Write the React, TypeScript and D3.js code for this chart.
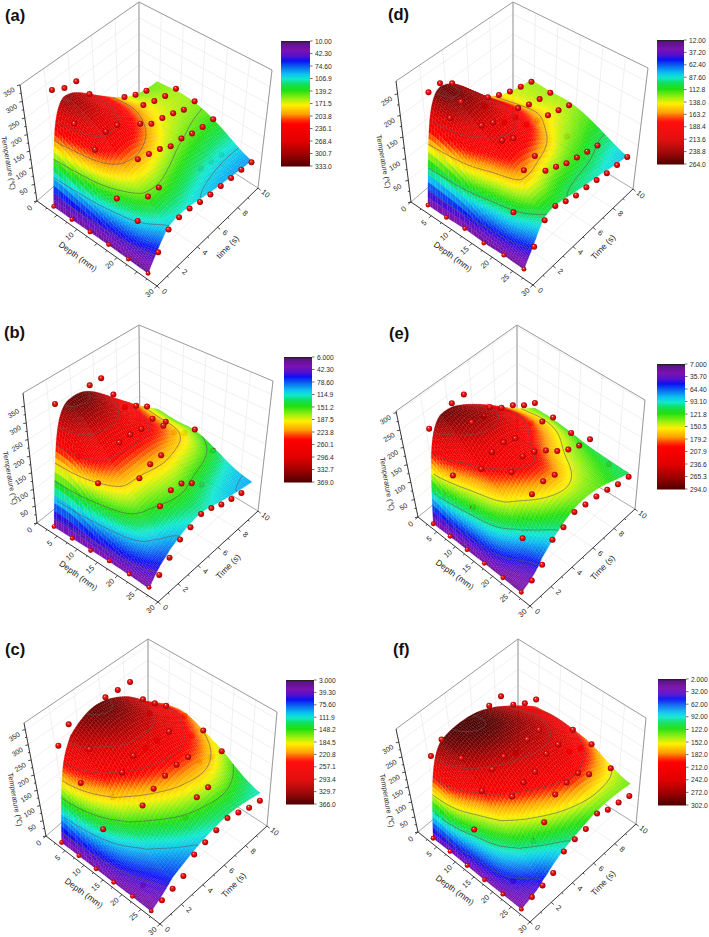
import React, { useEffect, useRef } from "react";
import * as d3 from "d3";

const depths = [4.4, 8.9, 13.4, 18, 22.9, 27.8];
const times = [0, 1, 2, 3, 4, 5, 6, 7, 8, 9, 10];
const N = null;

const surfaceA = [
  [21, 265, 312, 290, 255, 222, 190, 160, 141, 130, 129],
  [20, 225, 285, 278, 252, 222, 195, 170, 155, 145, 138],
  [21, 190, 250, 250, 232, 205, 178, 160, 150, 142, 135],
  [21, 135, 185, 195, 182, 168, 150, 143, 132, 124, 118],
  [20, 100, 140, 145, 135, 125, 115, 105, 98, 92, 88],
  [18, 52, 88, 98, 95, 88, 80, 75, 70, 65, 60],
];
const dotsA = [
  [21, 345, 325, 320, 255, N, N, 165, 145, 130, N],
  [20, 280, N, N, N, N, N, 175, 160, 148, 143],
  [21, 238, 265, 258, N, 208, 180, 170, 157, 140, 138],
  [22, 130, N, 192, 180, 167, 148, 143, 130, 122, 117],
  [20, 104, 148, 147, N, N, N, 90, 80, 75, N],
  [19, 52, 90, 98, 95, 86, 79, 76, 71, 67, 60],
];
const surfaceB = [
  [23, 300, 365, 369, 350, 318, 280, 245, 205, 170, 140],
  [24, 280, 320, 330, 315, 290, 255, 225, 195, 165, 130],
  [25, 205, 250, 258, 258, 250, 242, 220, 192, 163, 135],
  [26, 155, 195, 190, 195, 200, 190, 178, 165, 140, 112],
  [25, 105, 130, 145, 152, 150, 135, 122, 108, 94, 84],
  [22, 48, 68, 88, 100, 108, 100, 90, 82, 76, 70],
];
const dotsB = [
  [24, 369, N, N, 360, 360, 285, 220, 200, 172, N],
  [24, 243, N, N, N, N, N, N, N, 155, N],
  [23, 198, N, 272, 272, 265, 272, 225, 178, 150, 135],
  [28, N, N, 198, 215, 217, N, N, N, N, 100],
  [27, N, N, 150, 172, 166, 141, 110, N, N, N],
  [26, 36, 60, 87, 97, 110, 101, 85, 75, 66, N],
];
const surfaceC = [
  [21, 240, 320, 350, 360, 352, 330, 305, 255, 218, 185],
  [21, 190, 275, 310, 335, 335, 320, 295, 265, 235, 200],
  [21, 130, 205, 250, 280, 280, 280, 265, 240, 210, 175],
  [21, 85, 132, 178, 205, 225, 230, 225, 210, 182, 150],
  [21, 52, 82, 108, 138, 158, 165, 170, 158, 135, 110],
  [20, 35, 60, 72, 80, 88, 95, 98, 97, 92, 85],
];
const dotsC = [
  [21, 310, 352, N, N, 356, 352, 350, 263, 220, 182],
  [21, 229, 311, N, N, N, N, 283, N, N, 185],
  [21, 120, 194, 246, 271, 265, 262, 262, N, 187, 175],
  [21, N, N, 179, 204, 216, 222, 217, 172, 155, 145],
  [22, 27, N, N, N, 122, 158, 160, N, N, N],
  [21, 24, 30, 40, 78, 86, 94, 102, 89, 73, 64],
];
const surfaceD = [
  [21, 225, 262, 245, 215, 180, 150, 135, 125, 118, 113],
  [21, 205, 245, 248, 225, 190, 165, 140, 125, 117, 110],
  [24, 170, 205, 215, 210, 190, 165, 145, 130, 120, 112],
  [21, 118, 185, 195, 190, 168, 145, 125, 118, 108, 100],
  [23, 92, 148, 143, 125, 120, 112, 105, 97, 85, 80],
  [21, 50, 85, 95, 92, 85, 80, 76, 70, 65, 60],
];
const dotsD = [
  [21, 262, 264, 245, N, N, 153, 138, 126, 117, 108],
  [21, 230, 248, N, 198, N, N, 133, 121, 113, 107],
  [24, N, 220, 207, 187, 178, 141, 129, 121, 112, 103],
  [20, N, 213, 198, N, N, N, N, 98, N, N],
  [23, 99, 174, 186, 131, 119, 106, 98, 90, 83, N],
  [22, 51, 90, 101, 90, 82, 79, 74, 68, 65, 62],
];
const surfaceE = [
  [18, 240, 294, 282, 256, 230, 205, 179, 150, 128, 108],
  [20, 172, 235, 270, 270, 255, 225, 190, 160, 135, 108],
  [20, 125, 195, 218, 220, 215, 195, 175, 150, 130, 100],
  [20, 100, 165, 195, 210, 200, 170, 150, 130, 115, 92],
  [20, 52, 88, 135, 160, 170, 150, 135, 120, 105, 88],
  [18, 28, 52, 76, 92, 110, 118, 118, 108, 95, 85],
];
const dotsE = [
  [18, 265, N, 288, 288, N, 205, 179, 162, 139, 122],
  [20, 168, N, 269, 259, N, N, N, 144, 125, 112],
  [20, 114, 197, 220, 222, 208, N, N, N, N, 100],
  [20, N, N, 199, 218, 205, 183, 156, 135, 121, 113],
  [20, N, 78, 175, 185, 177, N, N, N, N, 77],
  [20, 26, 43, 86, 94, 110, 104, 100, 92, 81, 75],
];
const surfaceF = [
  [23, 230, 295, 302, 300, 292, 275, 250, 222, 195, 165],
  [24, 200, 268, 290, 298, 295, 280, 265, 240, 212, 175],
  [22, 120, 200, 245, 258, 262, 258, 252, 238, 208, 170],
  [20, 92, 140, 185, 210, 225, 235, 230, 215, 190, 160],
  [21, 55, 85, 115, 140, 165, 182, 190, 170, 155, 130],
  [20, 24, 35, 60, 75, 85, 92, 102, 108, 110, 108],
];
const dotsF = [
  [23, 266, 291, N, N, N, 284, 285, 230, 206, 190],
  [24, N, 271, N, N, N, N, N, N, N, N],
  [22, 110, 206, 247, 259, 240, 254, 255, N, N, 168],
  [20, N, N, 200, 216, 220, 248, 248, 195, 175, 159],
  [21, 33, N, 100, 131, 190, 198, 198, 164, N, 122],
  [20, 28, 34, 43, 81, 89, 91, 110, 91, 83, 73],
];

const legendA = ["10.00", "42.30", "74.60", "106.9", "139.2", "171.5", "203.8", "236.1", "268.4", "300.7", "333.0"];
const legendB = ["6.000", "42.30", "78.60", "114.9", "151.2", "187.5", "223.8", "260.1", "296.4", "332.7", "369.0"];
const legendC = ["3.000", "39.30", "75.60", "111.9", "148.2", "184.5", "220.8", "257.1", "293.4", "329.7", "366.0"];
const legendD = ["12.00", "37.20", "62.40", "87.60", "112.8", "138.0", "163.2", "188.4", "213.6", "238.8", "264.0"];
const legendE = ["7.000", "35.70", "64.40", "93.10", "121.8", "150.5", "179.2", "207.9", "236.6", "265.3", "294.0"];
const legendF = ["2.000", "32.00", "62.00", "92.00", "122.0", "152.0", "182.0", "212.0", "242.0", "272.0", "302.0"];

const colorStops = [0, 0.015, 0.07, 0.12, 0.155, 0.21, 0.26, 0.3, 0.34, 0.39, 0.46, 0.51, 0.58, 0.63, 0.66, 0.8, 0.9, 1];
const colorValues = ["#3a1a4a", "#5e1388", "#7c12b2", "#5010d0", "#0a10f4", "#0a70f0", "#0ac0f0", "#10e8d0", "#10e060", "#20e010", "#a0f010", "#fff000", "#ffa000", "#ff3000", "#ff0000", "#e00000", "#a00000", "#4c0000"];
const farWallLift = 0.065; // fraction of the colour range added at the far wall, heights shrink there

type Pt = [number, number];
interface Panel {
  letter: string; letterAt: Pt;
  floor: Pt[]; top: Pt[]; zMax: number; zTop: number; zStep: number;
  depthLabelStep: number; timeTitle: string;
  surface: number[][]; dots: (number | null)[][];
  legend: string[]; legendBox: [number, number, number, number];
}
const panels: Panel[] = [
  { letter: "(a)", letterAt: [5, 21], floor: [[37, 201], [157, 286], [258, 188], [139, 112]], top: [[20, 85], [0, 0], [272, 70], [139, 2]], zMax: 350, zTop: 350, zStep: 50, depthLabelStep: 10, timeTitle: "time (s)", surface: surfaceA, dots: dotsA, legend: legendA, legendBox: [281, 41, 29, 125] },
  { letter: "(b)", letterAt: [4, 338], floor: [[37, 523], [158, 602], [258, 511], [140, 440]], top: [[23, 393], [0, 0], [273, 381], [139, 325]], zMax: 390, zTop: 350, zStep: 50, depthLabelStep: 5, timeTitle: "Time (s)", surface: surfaceB, dots: dotsB, legend: legendB, legendBox: [284, 357, 28, 125] },
  { letter: "(c)", letterAt: [5, 655], floor: [[46, 836], [160, 924], [267, 826], [148, 748]], top: [[24, 723], [0, 0], [277, 712], [148, 639]], zMax: 372, zTop: 350, zStep: 50, depthLabelStep: 5, timeTitle: "Time (s)", surface: surfaceC, dots: dotsC, legend: legendC, legendBox: [286, 680, 28, 124] },
  { letter: "(d)", letterAt: [388, 20], floor: [[411, 202], [533, 285], [633, 189], [513, 115]], top: [[396, 81], [0, 0], [648, 68], [513, 2]], zMax: 280, zTop: 250, zStep: 50, depthLabelStep: 5, timeTitle: "Time (s)", surface: surfaceD, dots: dotsD, legend: legendD, legendBox: [657, 40, 27, 124] },
  { letter: "(e)", letterAt: [389, 339], floor: [[418, 517], [530, 606], [635, 509], [517, 437]], top: [[396, 411], [0, 0], [645, 400], [517, 325]], zMax: 305, zTop: 300, zStep: 50, depthLabelStep: 5, timeTitle: "Time (s)", surface: surfaceE, dots: dotsE, legend: legendE, legendBox: [657, 364, 28, 125] },
  { letter: "(f)", letterAt: [393, 655], floor: [[418, 832], [530, 922], [636, 824], [518, 749]], top: [[396, 729], [0, 0], [646, 718], [518, 639]], zMax: 344, zTop: 300, zStep: 50, depthLabelStep: 5, timeTitle: "Time (s)", surface: surfaceF, dots: dotsF, legend: legendF, legendBox: [658, 679, 28, 126] },
];

const FONT = "'Liberation Sans', Arial, sans-serif";

function hermite(xs: number[], ys: number[], m: number[]) {
  const n = xs.length;
  return (x: number) => {
    let i = d3.bisectRight(xs, x) - 1;
    i = Math.max(0, Math.min(n - 2, i));
    const h = xs[i + 1] - xs[i];
    const t = (x - xs[i]) / h;
    const t2 = t * t, t3 = t2 * t;
    return (2 * t3 - 3 * t2 + 1) * ys[i] + (t3 - 2 * t2 + t) * h * m[i] + (-2 * t3 + 3 * t2) * ys[i + 1] + (t3 - t2) * h * m[i + 1];
  };
}
function monotone(xs: number[], ys: number[]) {
  const n = xs.length;
  const h = xs.slice(0, -1).map((x, i) => xs[i + 1] - x);
  const s = h.map((hh, i) => (ys[i + 1] - ys[i]) / hh);
  const m = xs.map((_, i) => {
    if (i === 0) return s[0];
    if (i === n - 1) return s[n - 2];
    if (s[i - 1] * s[i] <= 0) return 0;
    const p = (s[i - 1] * h[i] + s[i] * h[i - 1]) / (h[i] + h[i - 1]);
    return Math.min(Math.abs(p), 2 * Math.abs(s[i - 1]), 2 * Math.abs(s[i])) * Math.sign(p);
  });
  return hermite(xs, ys, m);
}
function catmull(xs: number[], ys: number[]) {
  const n = xs.length;
  const m = xs.map((_, i) => {
    if (i === 0) return (ys[1] - ys[0]) / (xs[1] - xs[0]);
    if (i === n - 1) return (ys[n - 1] - ys[n - 2]) / (xs[n - 1] - xs[n - 2]);
    return (ys[i + 1] - ys[i - 1]) / (xs[i + 1] - xs[i - 1]);
  });
  return hermite(xs, ys, m);
}
function smooth(T: number[][], passesD: number, passesT: number) {
  const nd = T.length, nt = T[0].length;
  for (let p = 0; p < passesD; p++) {
    for (let j = 0; j < nt; j++) {
      const col = T.map((r) => r[j]);
      for (let i = 0; i < nd; i++) {
        const a = col[Math.max(0, i - 1)], c = col[Math.min(nd - 1, i + 1)];
        T[i][j] = (a + 2 * col[i] + c) / 4;
      }
    }
  }
  for (let p = 0; p < passesT; p++) {
    for (let i = 0; i < nd; i++) {
      const row = T[i].slice();
      for (let j = 1; j < nt - 1; j++) T[i][j] = (row[j - 1] + 2 * row[j] + row[j + 1]) / 4;
    }
  }
}

function drawPanel(root: d3.Selection<SVGGElement, unknown, null, undefined>, p: Panel, idx: number) {
  const [A, B, C, D] = p.floor;
  const AT = p.top[0], CT = p.top[2], DT = p.top[3];
  const hA = A[1] - AT[1], hC = C[1] - CT[1];
  const BT: Pt = [B[0] + ((AT[0] - A[0]) + (CT[0] - C[0])) / 2, B[1] - ((hA + hC) / 2) * 1.03];
  const uS = d3.scaleLinear().domain([0, 30]).range([0, 1]);
  const vS = d3.scaleLinear().domain([0, 10]).range([0, 1]);
  const wS = d3.scaleLinear().domain([0, p.zMax]).range([0, 1]);
  const bil = (a: Pt, b: Pt, c: Pt, e: Pt, u: number, v: number): Pt => [
    a[0] * (1 - u) * (1 - v) + b[0] * u * (1 - v) + c[0] * u * v + e[0] * (1 - u) * v,
    a[1] * (1 - u) * (1 - v) + b[1] * u * (1 - v) + c[1] * u * v + e[1] * (1 - u) * v,
  ];
  const proj = (d: number, t: number, z: number): Pt => {
    const u = uS(d), v = vS(t), w = wS(z);
    const f = bil(A, B, C, D, u, v), g = bil(AT, BT, CT, DT, u, v);
    return [f[0] + (g[0] - f[0]) * w, f[1] + (g[1] - f[1]) * w];
  };
  const line = d3.line<Pt>();
  const g = root.append("g");
  const seg = (a: Pt, b: Pt, stroke: string, w: number) =>
    g.append("path").attr("d", line([a, b])).attr("stroke", stroke).attr("stroke-width", w).attr("fill", "none");

  const zTicks = d3.range(0, p.zTop + 1, p.zStep);
  const dTicks = d3.range(0, 31, 5);
  const tTicks = d3.range(0, 11, 2);
  const grid = "#e9e9e9";
  zTicks.forEach((z) => {
    if (z === 0) return;
    seg(proj(0, 0, z), proj(0, 10, z), grid, 0.7);
    seg(proj(0, 10, z), proj(30, 10, z), grid, 0.7);
  });
  tTicks.forEach((t) => {
    seg(proj(0, t, 0), proj(0, t, p.zMax), grid, 0.7);
    seg(proj(0, t, 0), proj(30, t, 0), grid, 0.7);
  });
  dTicks.forEach((d) => {
    seg(proj(d, 10, 0), proj(d, 10, p.zMax), grid, 0.7);
    seg(proj(d, 0, 0), proj(d, 10, 0), grid, 0.7);
  });
  const box = "#9a9a9a";
  seg(A, D, box, 0.8); seg(D, C, box, 0.8); seg(D, DT, box, 1);
  seg(AT, DT, box, 1); seg(DT, CT, box, 1); seg(C, CT, box, 1);

  const tMesh = [...d3.range(0, 2, 2 / 28), ...d3.range(2, 10.001, 8 / 52)];
  const dMesh = d3.range(0, 41).map((i) => depths[0] + ((depths[5] - depths[0]) * i) / 40);
  const byTime = p.surface.map((row) => monotone(times, row));
  const T: number[][] = dMesh.map(() => []);
  tMesh.forEach((t) => {
    const col = byTime.map((f) => f(t));
    const fd = catmull(depths, col);
    dMesh.forEach((d, i) => T[i].push(fd(d)));
  });
  smooth(T, 14, 24);
  const lo = +p.legend[0], hi = +p.legend[10];
  const lift = (t: number) => farWallLift * (hi - lo) * vS(t) * vS(t);
  const TC = T.map((r) => r.map((v, j) => v + lift(tMesh[j])));
  const frac = d3.scaleLinear().domain([lo, hi]).range([0, 1]).clamp(true);
  const cmap = d3.scaleLinear<string>().domain(colorStops).range(colorValues).interpolate(d3.interpolateRgb);
  const levels = d3.range(50, hi, 50);

  type Dot = { d: number; t: number; z: number };
  const dotAt = new Map<string, Dot[]>();
  const topDots: Dot[] = [];
  p.dots.forEach((row, i) => row.forEach((z, j) => {
    if (z === null) return;
    const d = depths[i], t = times[j];
    const k = Math.min(dMesh.length - 2, Math.max(0, d3.bisectRight(dMesh, d) - 1));
    const l = Math.min(tMesh.length - 2, Math.max(0, d3.bisectRight(tMesh, t) - 1));
    if (z >= p.surface[i][j] - 10) topDots.push({ d, t, z });
    else {
      const key = k + "_" + l;
      if (!dotAt.has(key)) dotAt.set(key, []);
      dotAt.get(key)!.push({ d, t, z });
    }
  }));
  const gradId = "ball" + idx;
  const defs = g.append("defs");
  const rg = defs.append("radialGradient").attr("id", gradId).attr("cx", "50%").attr("cy", "50%").attr("r", "55%").attr("fx", "38%").attr("fy", "30%");
  [[0, "#ffd8d8"], [0.22, "#f83030"], [0.6, "#d80808"], [1, "#7c0404"]].forEach(([o, c]) => rg.append("stop").attr("offset", o as number).attr("stop-color", c as string));
  const ball = (o: Dot) => {
    const q = proj(o.d, o.t, o.z);
    g.append("circle").attr("cx", q[0]).attr("cy", q[1]).attr("r", o.t === 0 ? 2.4 : 3).attr("fill", `url(#${gradId})`);
  };

  const horizon = new Map<number, number>();
  let contourPath = "";
  for (let i = dMesh.length - 2; i >= 0; i--) {
    for (let j = 0; j < tMesh.length - 1; j++) {
      const d0 = dMesh[i], d1 = dMesh[i + 1], t0 = tMesh[j], t1 = tMesh[j + 1];
      const a = T[i][j], b = T[i + 1][j], c = T[i + 1][j + 1], e = T[i][j + 1];
      const ca = TC[i][j], cb = TC[i + 1][j], cc = TC[i + 1][j + 1], ce = TC[i][j + 1];
      const corners: Pt[] = [proj(d0, t0, a), proj(d1, t0, b), proj(d1, t1, c), proj(d0, t1, e)];
      levels.forEach((lv) => {
        const pts: Pt[] = [];
        const edge = (x1: number, y1: number, v1: number, w1: number, x2: number, y2: number, v2: number, w2: number) => {
          if ((w1 < lv) !== (w2 < lv)) {
            const f = (lv - w1) / (w2 - w1);
            pts.push(proj(x1 + (x2 - x1) * f, y1 + (y2 - y1) * f, v1 + (v2 - v1) * f));
          }
        };
        edge(d0, t0, a, ca, d1, t0, b, cb); edge(d1, t0, b, cb, d1, t1, c, cc); edge(d1, t1, c, cc, d0, t1, e, ce); edge(d0, t1, e, ce, d0, t0, a, ca);
        for (let k = 0; k + 1 < pts.length; k += 2) {
          const mx = Math.round((pts[k][0] + pts[k + 1][0]) / 2), my = (pts[k][1] + pts[k + 1][1]) / 2;
          const hz = horizon.get(mx);
          if (hz === undefined || my <= hz + 16) contourPath += line([pts[k], pts[k + 1]]);
        }
      });
      const xs = corners.map((q) => q[0]), ys = corners.map((q) => q[1]);
      const top = Math.min(...ys);
      for (let x = Math.floor(Math.min(...xs)); x <= Math.ceil(Math.max(...xs)); x++) {
        const hz = horizon.get(x);
        if (hz === undefined || top < hz) horizon.set(x, top);
      }
    }
  }

  for (let i = 0; i < dMesh.length - 1; i++) {
    for (let j = tMesh.length - 2; j >= 0; j--) {
      const d0 = dMesh[i], d1 = dMesh[i + 1], t0 = tMesh[j], t1 = tMesh[j + 1];
      const a = T[i][j], b = T[i + 1][j], c = T[i + 1][j + 1], e = T[i][j + 1];
      const corners: Pt[] = [proj(d0, t0, a), proj(d1, t0, b), proj(d1, t1, c), proj(d0, t1, e)];
      const col = cmap(frac((TC[i][j] + TC[i + 1][j] + TC[i + 1][j + 1] + TC[i][j + 1]) / 4));
      g.append("path").attr("d", line(corners) + "Z").attr("fill", col).attr("stroke", col).attr("stroke-width", 0.22);
      const here = dotAt.get(i + "_" + j);
      if (here) here.forEach(ball);
    }
  }
  g.append("path").attr("d", contourPath).attr("fill", "none").attr("stroke", "#5a5a5a").attr("stroke-width", 0.7).attr("stroke-opacity", 0.85);
  topDots.forEach(ball);

  const axis = "#222";
  seg(A, AT, axis, 0.9); seg(A, B, axis, 0.9); seg(B, C, axis, 0.9);
  const tick = (q: Pt, dx: number, dy: number, w = 0.8) => seg(q, [q[0] + dx, q[1] + dy], axis, w);
  const text = (s: string, q: Pt, rot: number, size: number) =>
    g.append("text").attr("transform", `translate(${q[0]},${q[1]}) rotate(${rot})`).attr("text-anchor", "middle").attr("dominant-baseline", "central")
      .attr("font-family", FONT).attr("font-size", size).attr("fill", "#2a2a2a").text(s);
  d3.range(0, p.zTop + 1, p.zStep / 2).forEach((z) => {
    const q = proj(0, 0, z);
    const major = z % p.zStep === 0;
    tick(q, major ? -3 : -1.8, major ? 0.6 : 0.3);
    if (major && z > 0) text(String(z), [q[0] - 11, q[1] + 7], -32, 7);
  });
  d3.range(0, 31, 2.5).forEach((d) => {
    const q = proj(d, 0, 0);
    const major = d % 5 === 0;
    tick(q, major ? -2.6 : -1.5, major ? 2.2 : 1.2);
    if (d % p.depthLabelStep === 0) text(String(d), [q[0] - 7.5, q[1] + 7], -42, 7.5);
  });
  d3.range(0, 11, 1).forEach((t) => {
    const q = proj(30, t, 0);
    const major = t % 2 === 0;
    tick(q, major ? 2.6 : 1.5, major ? 2.2 : 1.2);
    if (major) text(String(t), [q[0] + 7.5, q[1] + 5.5], 40, 7.5);
  });
  const mid = (a: Pt, b: Pt): Pt => [(a[0] + b[0]) / 2, (a[1] + b[1]) / 2];
  const m1 = mid(A, B), m2 = mid(B, C), m3 = mid(A, AT);
  text("Depth (mm)", [m1[0] - 19, m1[1] + 13], 36, 8.5);
  text(p.timeTitle, [m2[0] + 20, m2[1] + 10], -46, 8.5);
  text("Temperature (\u2103)", [m3[0] - 20, m3[1] + 20], 80, 7.2);

  const [lx, ly, lw, lh] = p.legendBox;
  const yL = d3.scaleLinear().domain([0, 10]).range([ly, ly + lh]);
  const fb = d3.scaleLinear().domain([0, 125]).range([0, 1]);
  d3.range(0, 125).forEach((b) => {
    g.append("rect").attr("x", lx).attr("y", ly + (lh * b) / 125).attr("width", lw).attr("height", lh / 125 + 0.5).attr("fill", cmap(fb(b)));
  });
  g.append("rect").attr("x", lx).attr("y", ly).attr("width", lw).attr("height", 1).attr("fill", "#222");
  p.legend.forEach((s, i) => {
    const y = yL(i);
    seg([lx + lw, y], [lx + lw + 2.5, y], "#333", 0.7);
    g.append("text").attr("x", lx + lw + 5).attr("y", y).attr("dominant-baseline", "central").attr("font-family", FONT).attr("font-size", 6.7).attr("fill", "#2a2a2a").text(s);
  });
  g.append("text").attr("x", p.letterAt[0]).attr("y", p.letterAt[1]).attr("font-family", FONT).attr("font-weight", "bold").attr("font-size", 16.5).attr("fill", "#111").text(p.letter);
}

export default function App() {
  const ref = useRef<SVGGElement>(null);
  useEffect(() => {
    const root = d3.select(ref.current!);
    root.selectAll("*").remove();
    panels.forEach((p, i) => drawPanel(root as any, p, i));
  }, []);
  return (
    <svg width={709} height={937} style={{ position: "absolute", left: 0, top: 0, background: "#fff" }}>
      <g ref={ref} />
    </svg>
  );
}
